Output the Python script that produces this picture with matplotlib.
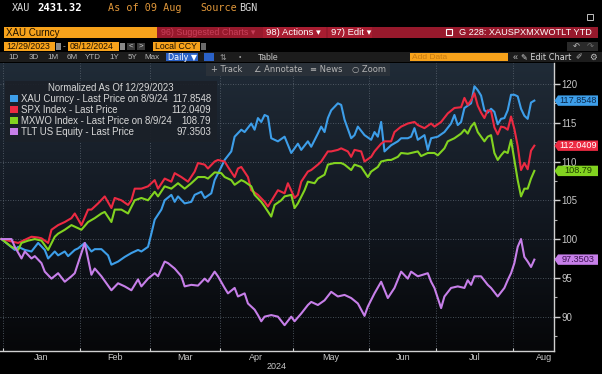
import numpy as np
import matplotlib
matplotlib.use("Agg")
import matplotlib.pyplot as plt
from matplotlib.patches import Rectangle, Polygon
from matplotlib.colors import LinearSegmentedColormap
from matplotlib.transforms import blended_transform_factory

W, H = 602, 374
FONT = ["Liberation Sans", "DejaVu Sans"]
MONO = ["DejaVu Sans Mono"]

# ---- data: normalized to 100 on 12/29/2023, x = business days since 12/29/2023
xau_day = [0, 4, 5, 7, 9, 11, 13, 14, 16, 17, 19, 20, 22, 23, 25, 27, 28, 30, 32, 33,
           35, 37, 39, 41, 42, 44, 45, 46, 48, 49, 51, 52, 53, 55, 57, 58, 60, 61, 63, 64,
           66, 67, 69, 70, 72, 73, 75, 76, 77, 78, 79, 80, 81, 82, 83, 85, 87, 89, 90, 92,
           93, 95, 96, 97, 98, 99, 101, 102, 103, 105, 106, 107, 109, 111, 112, 113, 114, 115, 117, 119,
           120, 122, 123, 124, 125, 127, 128, 129, 131, 133, 135, 136, 137, 138, 139, 141, 142, 143, 144, 145,
           146, 147, 148, 149, 150, 151, 152, 153, 154, 155, 156, 157, 158, 159, 160]
xau_val = [100.0, 98.6, 99.0, 98.6, 98.4, 99.5, 98.6, 97.5, 98.4, 97.9, 98.4, 97.8, 98.6, 98.8, 99.5, 98.4, 98.7, 98.7, 97.9, 96.7,
           97.1, 97.7, 98.2, 98.6, 98.4, 99.0, 100.7, 102.5, 103.8, 105.0, 105.7, 104.8, 105.5, 104.6, 104.8, 105.7, 106.1, 105.3, 105.9, 107.6,
           109.3, 110.2, 111.3, 113.2, 114.1, 113.8, 114.9, 114.1, 115.6, 115.1, 116.0, 115.8, 113.0, 112.8, 112.6, 113.2, 111.1, 112.3, 111.5, 112.6,
           111.9, 113.6, 114.5, 113.8, 115.6, 116.6, 117.5, 117.3, 115.4, 113.0, 113.4, 114.5, 113.4, 112.8, 113.8, 113.2, 115.1, 111.3, 112.1, 112.6,
           113.0, 113.0, 113.2, 114.3, 112.8, 113.4, 111.5, 113.0, 113.2, 113.8, 114.9, 116.0, 114.7, 115.1, 116.9, 117.5, 119.7, 119.2, 118.5, 116.6,
           116.3, 116.8, 116.4, 114.8, 115.5, 115.6, 116.6, 118.6, 118.6, 118.4, 116.8, 115.9, 115.5, 117.6, 117.85]

spx_day = [0, 5, 7, 9, 11, 12, 14, 15, 17, 19, 21, 22, 24, 26, 27, 29, 31, 33, 34, 36,
           38, 39, 40, 42, 44, 46, 47, 49, 51, 52, 54, 56, 58, 59, 61, 62, 64, 65, 67, 68,
           70, 71, 72, 74, 75, 77, 79, 80, 82, 83, 85, 86, 88, 89, 90, 92, 93, 95, 96, 98,
           99, 101, 102, 104, 105, 106, 108, 109, 111, 112, 114, 115, 117, 118, 120, 122, 124, 125, 127, 129,
           130, 132, 134, 136, 138, 139, 140, 141, 142, 143, 144, 145, 146, 147, 148, 149, 150, 151, 152, 153,
           154, 155, 156, 157, 158, 159, 160]
spx_val = [100.0, 99.5, 99.9, 100.3, 100.2, 100.1, 99.5, 101.2, 101.8, 102.2, 102.7, 103.3, 101.8, 103.8, 103.8, 104.6, 105.5, 104.0, 105.3, 105.0,
           104.4, 105.0, 106.5, 106.5, 106.8, 107.6, 106.5, 107.8, 107.4, 108.5, 108.0, 107.4, 108.7, 109.8, 109.6, 109.1, 110.0, 110.2, 110.0, 109.3,
           108.0, 109.1, 109.3, 108.0, 106.3, 105.7, 104.8, 104.2, 105.6, 106.3, 105.9, 107.2, 105.3, 105.7, 107.4, 108.7, 108.9, 109.6, 110.0, 111.3,
           111.3, 111.5, 111.7, 111.3, 110.6, 111.5, 111.3, 110.0, 110.6, 111.3, 112.3, 112.6, 112.6, 113.8, 114.5, 114.9, 115.1, 114.7, 114.3, 114.9,
           114.5, 115.1, 116.2, 116.9, 117.0, 118.2, 117.3, 117.9, 118.8, 117.2, 116.3, 115.6, 116.6, 116.5, 114.4, 113.5, 114.5, 114.4, 114.1, 115.8,
           114.2, 112.0, 108.9, 109.8, 109.0, 111.4, 112.04]

mxwo_day = [0, 3, 5, 6, 8, 10, 12, 14, 16, 17, 19, 21, 24, 26, 28, 30, 31, 33, 34, 36,
            38, 40, 42, 44, 46, 47, 49, 51, 53, 55, 57, 59, 61, 62, 64, 66, 67, 69, 70, 72,
            73, 75, 76, 78, 79, 81, 82, 84, 85, 87, 88, 89, 91, 92, 94, 95, 97, 98, 100, 102,
            103, 105, 106, 108, 110, 111, 113, 114, 116, 117, 119, 120, 122, 123, 125, 126, 128, 130, 131, 133,
            134, 136, 138, 139, 140, 141, 142, 143, 145, 146, 147, 148, 149, 150, 151, 152, 153, 154, 155, 156,
            157, 158, 159, 160]
mxwo_val = [100.0, 99.0, 98.6, 99.5, 99.8, 100.0, 99.8, 98.6, 100.3, 100.7, 101.2, 101.8, 101.2, 102.2, 102.7, 103.3, 103.5, 102.2, 103.8, 103.8,
            103.3, 105.0, 105.3, 105.0, 106.1, 105.5, 106.8, 106.5, 107.2, 106.5, 107.2, 108.0, 108.0, 107.8, 108.6, 108.5, 108.0, 107.6, 107.0, 107.6,
            107.4, 106.8, 105.7, 104.8, 104.2, 102.9, 104.4, 105.0, 105.5, 105.7, 104.0, 104.6, 106.3, 107.4, 107.2, 107.8, 108.3, 109.6, 109.8, 109.8,
            109.6, 108.9, 109.6, 109.3, 108.0, 108.7, 109.3, 110.0, 110.2, 110.2, 110.6, 111.1, 111.0, 111.1, 111.3, 110.7, 111.1, 111.1, 110.8, 111.7,
            112.6, 113.0, 113.6, 114.1, 113.6, 114.5, 115.0, 113.8, 112.6, 113.2, 113.4, 111.1, 110.2, 110.8, 111.3, 111.1, 112.8, 110.2, 107.6, 105.5,
            106.5, 106.5, 107.8, 108.79]

tlt_day = [0, 3, 4, 6, 7, 9, 10, 12, 13, 15, 17, 19, 21, 22, 25, 27, 28, 30, 33, 35,
           37, 39, 41, 42, 44, 46, 47, 49, 50, 52, 54, 55, 57, 59, 61, 62, 64, 65, 67, 68,
           70, 71, 73, 74, 76, 77, 78, 79, 81, 83, 85, 87, 88, 90, 92, 93, 95, 97, 99, 101,
           103, 105, 107, 109, 110, 112, 114, 116, 118, 120, 122, 123, 125, 128, 129, 130, 132, 133, 135, 137,
           139, 140, 141, 142, 144, 146, 147, 149, 151, 152, 153, 154, 155, 156, 157, 158, 159, 160]
tlt_val = [100.0, 100.0, 99.0, 97.5, 98.4, 97.5, 97.8, 96.9, 95.8, 94.9, 95.6, 94.5, 95.2, 95.6, 99.5, 95.4, 96.2, 95.2, 93.4, 94.3,
           93.9, 93.4, 94.8, 93.9, 94.9, 95.6, 95.2, 97.1, 96.9, 96.2, 95.2, 93.9, 94.1, 94.0, 94.9, 94.5, 95.8, 95.2, 93.7, 93.0,
           93.7, 92.6, 93.0, 91.7, 90.9, 90.2, 89.4, 90.0, 90.2, 90.0, 88.9, 90.0, 89.4, 90.4, 91.5, 91.9, 91.5, 92.1, 93.2, 92.6,
           92.8, 92.4, 91.7, 90.1, 91.3, 93.0, 94.5, 92.4, 93.7, 95.8, 94.9, 95.8, 95.2, 95.6, 94.5, 93.7, 91.1, 92.6, 93.7, 93.9,
           93.7, 94.7, 94.1, 95.2, 95.2, 94.1, 93.7, 92.6, 93.7, 94.7, 95.6, 96.9, 99.0, 100.0, 97.7, 97.1, 96.4, 97.35]

names = ["XAU Curncy - Last Price on 8/9/24", "SPX Index - Last Price",
         "MXWO Index - Last Price on 8/9/24", "TLT US Equity - Last Price"]
last_labels = ["117.8548", "112.0409", "108.79", "97.3503"]
colors = ["#3d9ee9", "#ec2a42", "#82d320", "#c77fe9"]
tag_text = ["#0b2a4d", "#ffffff", "#1d3b00", "#3b1250"]

month_names = ["Jan", "Feb", "Mar", "Apr", "May", "Jun", "Jul", "Aug"]
month_first = np.array(["2024-01-01", "2024-02-01", "2024-03-01", "2024-04-01", "2024-05-01",
                        "2024-06-01", "2024-07-01", "2024-08-01", "2024-09-01"], dtype="datetime64[D]")
base = np.datetime64("2023-12-29")
month_pos = np.busday_count(base, month_first) - 0.5

series = [(xau_day, xau_val), (spx_day, spx_val), (mxwo_day, mxwo_val), (tlt_day, tlt_val)]

fig = plt.figure(figsize=(W / 100, H / 100), dpi=100, facecolor="black")

# background / header layer in pixel coordinates
bg = fig.add_axes([0, 0, 1, 1], zorder=0)
bg.axis("off")
grad = np.linspace(0, 1, 256).reshape(-1, 1)
cmap = LinearSegmentedColormap.from_list("bb", ["#202b37", "#131922", "#060709"])
bg.imshow(grad, extent=(0, 554, 351, 63), aspect="auto", cmap=cmap, origin="upper")
bg.set_xlim(0, W)
bg.set_ylim(H, 0)


def box(a, x0, y0, x1, y1, color, **kw):
    a.add_patch(Rectangle((x0, y0), x1 - x0, y1 - y0, facecolor=color, edgecolor="none", **kw))


def txt(a, x, y, s, size=6.2, color="#d0d0d0", ha="left", family=FONT, **kw):
    a.text(x, y, s, fontsize=size, color=color, ha=ha, va="center", family=family, **kw)


# top line
txt(bg, 12, 8, "XAU", 7.3, "#d8d8d8", family=MONO)
txt(bg, 37, 8, "2431.32", 7.6, "#ffffff", family=MONO, fontweight="bold")
txt(bg, 108, 8, "As of 09 Aug", 7.3, "#e0973a", family=MONO)
txt(bg, 200, 8, "Source", 7.3, "#e0973a", family=MONO)
txt(bg, 239, 8, "BGN", 7.3, "#d8d8d8", family=MONO)
bg.add_patch(Rectangle((587, 14), 6, 6, facecolor="none", edgecolor="#c0c0c0", lw=0.7))

# red command bar
box(bg, 157, 27, 598, 38, "#97192c")
box(bg, 4, 27, 157, 38, "#f7a21b")
txt(bg, 6, 32.5, "XAU Curncy", 7.0, "#1c1000")
txt(bg, 161, 32.5, "96) Suggested Charts \u25be", 6.4, "#c8405a")
box(bg, 263, 27, 326, 38, "#a81d31")
txt(bg, 266, 32.5, "98) Actions \u25be", 6.8, "#ffffff")
box(bg, 328, 27, 372, 38, "#a81d31")
txt(bg, 331, 32.5, "97) Edit \u25be", 6.8, "#ffffff")
bg.add_patch(Rectangle((446, 29), 6, 6, facecolor="none", edgecolor="#ffffff", lw=0.8))
txt(bg, 592, 32.5, "G 228: XAUSPXMXWOTLT YTD", 6.6, "#ffffff", ha="right")

# date row
box(bg, 4, 42, 55, 51, "#f7a21b")
txt(bg, 6, 46.5, "12/29/2023", 6.3, "#1c1000")
box(bg, 56, 43, 61, 50, "#8a8a8a")
txt(bg, 63, 46.5, "-", 6.0, "#d0d0d0")
box(bg, 68, 42, 119, 51, "#f7a21b")
txt(bg, 70, 46.5, "08/12/2024", 6.3, "#1c1000")
box(bg, 120, 43, 125, 50, "#8a8a8a")
box(bg, 127, 43, 135, 50, "#3a3a3a")
txt(bg, 131, 46.5, "<", 5.8, "#d0d0d0", ha="center")
box(bg, 137, 43, 145, 50, "#3a3a3a")
txt(bg, 141, 46.5, ">", 5.8, "#d0d0d0", ha="center")
box(bg, 153, 42, 200, 51, "#f7a21b")
txt(bg, 155, 46.5, "Local CCY", 6.3, "#1c1000")
box(bg, 201, 43, 206, 50, "#6a6a6a")
box(bg, 567, 42, 598, 51, "#2a2a2a")
txt(bg, 576, 46.5, "\u21b6", 6.0, "#c0c0c0", ha="center", family=["DejaVu Sans"])
txt(bg, 590, 46.5, "\u21b7", 6.0, "#707070", ha="center", family=["DejaVu Sans"])

# tab row
box(bg, 0, 52, W, 62, "#1c1c1c")
for lab, xc in zip(["1D", "3D", "1M", "6M", "YTD", "1Y", "5Y", "Max"],
                   [14, 34, 53, 72, 93, 114, 133, 152]):
    txt(bg, xc, 57, lab, 5.8, "#b8b8b8", ha="center")
box(bg, 166, 53, 198, 61, "#2b62c8")
txt(bg, 182, 57, "Daily \u25bc", 5.8, "#ffffff", ha="center", family=["DejaVu Sans"])
box(bg, 204, 53, 214, 61, "#2b62c8")
txt(bg, 223, 57, "\u21c5", 5.8, "#a0a0a0", ha="center", family=["DejaVu Sans"])
txt(bg, 240, 57, "\u2022", 5.0, "#a0a0a0", ha="center")
txt(bg, 258, 57, "Table", 6.2, "#c8c8c8")
box(bg, 410, 53, 508, 61, "#f7a21b")
txt(bg, 412, 57, "Add Data", 6.0, "#c87a10")
txt(bg, 515, 57, "\u00ab", 6.5, "#c0c0c0", ha="center")
txt(bg, 521, 57, "\u270e Edit Chart", 5.9, "#d8d8d8", family=["DejaVu Sans"])
txt(bg, 579, 57, "\u2710", 5.8, "#c0c0c0", ha="center", family=["DejaVu Sans"])
txt(bg, 593, 57, "\u2699", 6.3, "#c0c0c0", ha="center", family=["DejaVu Sans"])

# chart
ax = fig.add_axes([0 / W, 1 - 351 / H, 554 / W, (351 - 63) / H], zorder=1)
ax.patch.set_alpha(0)
for (d, v), c in zip(series, colors):
    ax.plot(d, v, color=c, lw=1.5, solid_joinstyle="round", zorder=3)
ax.set_xlim(-0.45, 165.9)
ax.set_ylim(85.57, 122.70)

ax.set_xticks(month_pos[:-1])
ax.set_xticklabels([])
label_pos = (month_pos[:-1] + month_pos[1:]) / 2
label_pos[-1] = min(label_pos[-1], 163.0)
ax.set_xticks(label_pos, minor=True)
ax.set_xticklabels(month_names, minor=True)
ax.tick_params(axis="x", which="major", direction="in", length=2.5, color="#d0d0d0", width=0.8)
ax.tick_params(axis="x", which="minor", length=0, pad=1.5, labelsize=6.5, labelcolor="#c8c8c8")
ax.set_xlabel("2024", color="#c8c8c8", fontsize=6.5, labelpad=0, family=FONT)

ax.yaxis.tick_right()
ax.set_yticks(np.arange(90, 121, 5))
ax.set_yticks(np.arange(87.5, 121, 5), minor=True)
ax.tick_params(axis="y", which="major", length=4, width=1.0, color="#d0d0d0",
               labelsize=6.9, labelcolor="#c8c8c8", pad=1.5)
ax.tick_params(axis="y", which="minor", length=2, width=0.8, color="#b0b0b0")
for lab in ax.get_xticklabels(minor=True) + ax.get_yticklabels():
    lab.set_family(FONT)

ax.grid(True, which="major", color="#5c6672", lw=0.6, ls=(0, (1, 2)))
for side in ["top", "left"]:
    ax.spines[side].set_visible(False)
for side in ["right", "bottom"]:
    ax.spines[side].set_color("#d0d0d0")
    ax.spines[side].set_linewidth(1.0)

# right-hand value tags
tr = blended_transform_factory(ax.transAxes, ax.transData)
half = 5.2 * (122.70 - 85.57) / 288
for (d, v), c, lab, tc in zip(series, colors, last_labels, tag_text):
    y = v[-1]
    pts = [(1 + 0.5 / 554, y), (1 + 4 / 554, y + half), (1 + 44 / 554, y + half),
           (1 + 44 / 554, y - half), (1 + 4 / 554, y - half)]
    ax.add_patch(Polygon(pts, closed=True, facecolor=c, edgecolor="none",
                         transform=tr, clip_on=False, zorder=6))
    ax.text(1 + 24.5 / 554, y, lab, transform=tr, fontsize=6.6, color=tc, ha="center",
            va="center", family=FONT, clip_on=False, zorder=7)

# overlay: legend box and chart toolbar
top = fig.add_axes([0, 0, 1, 1], zorder=3)
top.axis("off")
top.set_xlim(0, W)
top.set_ylim(H, 0)

box(top, 206, 63, 390, 76, "#2a3139")
for lab, x0 in [("+ Track", 211), ("\u2220 Annotate", 254), ("\u2261 News", 310), ("\u25cb Zoom", 352)]:
    txt(top, x0, 69.5, lab, 6.0, "#b4b4b4", family=["DejaVu Sans"])

box(top, 5, 81, 217, 142, "#1b2028", alpha=0.93)
txt(top, 111, 87.5, "Normalized As Of 12/29/2023", 6.9, "#d8d8d8", ha="center")
for i, (nm, c, lab) in enumerate(zip(names, colors, last_labels)):
    yy = 98.8 + i * 10.9
    box(top, 10, yy - 3.6, 17.5, yy + 3.6, c)
    txt(top, 21, yy, nm, 6.9, "#d8d8d8")
    txt(top, 211, yy, lab, 6.9, "#d8d8d8", ha="right")

fig.savefig("out.png", dpi=100, facecolor="black")
